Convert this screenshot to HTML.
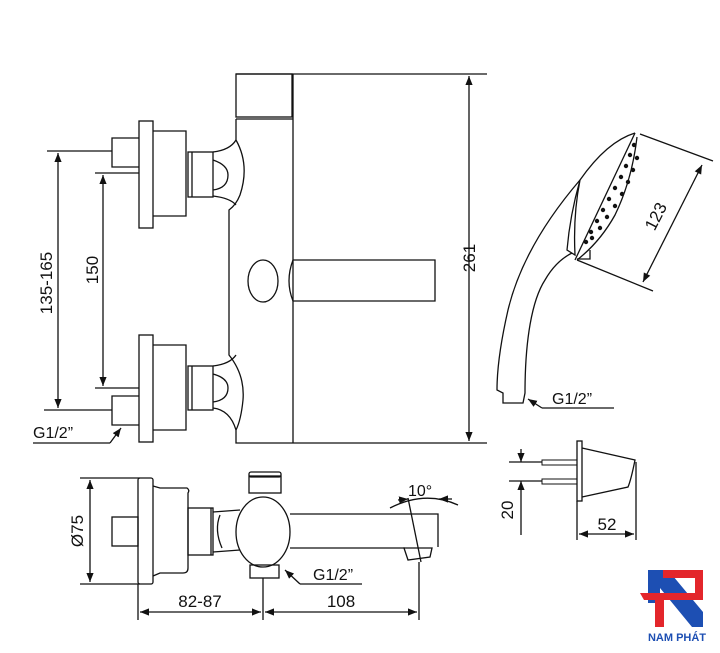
<!DOCTYPE html>
<html><head><meta charset="utf-8"><style>
html,body{margin:0;padding:0;background:#fff;width:720px;height:653px;overflow:hidden}
svg text{font-family:"Liberation Sans",sans-serif;fill:#111}
</style></head><body>
<svg width="720" height="653" viewBox="0 0 720 653" xmlns="http://www.w3.org/2000/svg">
<defs>
<marker id="a" viewBox="0 0 10 10" refX="10" refY="5" markerWidth="9" markerHeight="9" orient="auto-start-reverse" markerUnits="userSpaceOnUse"><path d="M0,1 L10,5 L0,9 Z" fill="#111"/></marker>
</defs>
<g fill="none" stroke="#111" stroke-width="1.3">
<line x1="236" y1="74" x2="487" y2="74"/>
<rect x="236" y="74" width="56" height="43"/>
<line x1="293" y1="74" x2="293" y2="443"/>
<line x1="236" y1="119" x2="293" y2="119"/>
<path d="M236,119 L236,140 Q250,165 240,195 Q236,205 229,210 L229,355 Q245,375 243,400 Q241,420 236,430 L236,443 L487,443"/>
<path d="M213,152 Q230,150 236,140 M213,196 Q230,198 236,205 M213,160 Q228,165 228,175 Q228,188 213,190"/>
<path d="M213,366 Q230,364 236,355 M213,408 Q230,410 236,430 M213,374 Q228,378 228,388 Q228,400 213,402"/>
<ellipse cx="263" cy="281" rx="15" ry="21"/>
<path d="M293,260 L435,260 L435,301 L293,301 Q285,281 293,260"/>
<line x1="469" y1="76" x2="469" y2="441" marker-start="url(#a)" marker-end="url(#a)"/>
<rect x="139" y="121" width="14" height="107"/>
<path d="M153,131 L186,131 L186,216 L153,216"/>
<rect x="188" y="152" width="25" height="45"/>
<line x1="192" y1="152" x2="192" y2="197"/>
<path d="M139,138 L112,138 L112,167 L139,167"/>
<rect x="139" y="335" width="14" height="107"/>
<path d="M153,345 L186,345 L186,430 L153,430"/>
<rect x="188" y="366" width="25" height="44"/>
<line x1="192" y1="366" x2="192" y2="410"/>
<path d="M139,396 L112,396 L112,425 L139,425"/>
<line x1="47" y1="151" x2="112" y2="151"/>
<line x1="44" y1="410" x2="112" y2="410"/>
<line x1="58" y1="153" x2="58" y2="408" marker-start="url(#a)" marker-end="url(#a)"/>
<line x1="95" y1="173" x2="139" y2="173"/>
<line x1="95" y1="388" x2="139" y2="388"/>
<line x1="103" y1="175" x2="103" y2="386" marker-start="url(#a)" marker-end="url(#a)"/>
<polyline points="33,443 110,443"/>
<line x1="110" y1="443" x2="121" y2="428" marker-end="url(#a)"/>
<line x1="80" y1="478" x2="140" y2="478"/>
<line x1="80" y1="584" x2="140" y2="584"/>
<line x1="90" y1="480" x2="90" y2="582" marker-start="url(#a)" marker-end="url(#a)"/>
<rect x="138" y="478" width="15" height="106" rx="2"/>
<path d="M153,486 L160,488 L187,488 Q190,490 188,493 L188,568 Q188,573 183,573 L160,573 L153,576"/>
<rect x="112" y="517" width="26" height="29"/>
<rect x="188" y="508" width="25" height="47"/>
<line x1="211" y1="508" x2="211" y2="555"/>
<path d="M213,512 L240,510 M213,552 L240,550 M220,515 Q214,530 222,548"/>
<ellipse cx="263" cy="532" rx="27" ry="35"/>
<rect x="249" y="476" width="32" height="17"/>
<rect x="249" y="472" width="32" height="5" rx="2"/>
<rect x="250" y="565" width="29" height="13"/>
<path d="M290,514 L438,514 L438,547 M290,548 L405,548"/>
<path d="M404,548 L408,560 L430,557 L432,548 Z"/>
<line x1="408" y1="498" x2="421" y2="562"/>
<path d="M390,508 Q425,490 458,505"/>
<line x1="398" y1="500" x2="408" y2="499" marker-end="url(#a)"/>
<line x1="452" y1="499" x2="439" y2="499" marker-end="url(#a)"/>
<line x1="138" y1="584" x2="138" y2="620"/>
<line x1="263" y1="578" x2="263" y2="620"/>
<line x1="419" y1="562" x2="419" y2="620"/>
<line x1="140" y1="612" x2="261" y2="612" marker-start="url(#a)" marker-end="url(#a)"/>
<line x1="265" y1="612" x2="417" y2="612" marker-start="url(#a)" marker-end="url(#a)"/>
<polyline points="362,584 300,584"/>
<line x1="300" y1="584" x2="285" y2="570" marker-end="url(#a)"/>
<!-- hand shower -->
<path d="M635,133 C612,140 594,160 580,180 C550,215 520,260 508,310 C500,345 497,370 497,390 L503,393 L503,403 L523,403 L525,393 C525,340 532,300 545,280 C553,266 562,258 572,253"/>
<path d="M580,180 Q570,215 567,250 L575,255 Q573,215 580,180"/>
<path d="M635,133 L575,260"/>
<path d="M637,137 Q632,180 615,215 Q600,242 577,260"/>
<path d="M577,259 L590,259 L590,250"/>
<line x1="640" y1="134" x2="713" y2="161"/>
<line x1="577" y1="260" x2="653" y2="291"/>
<line x1="702" y1="165" x2="643" y2="282" marker-start="url(#a)" marker-end="url(#a)"/>
<polyline points="614,408 542,408"/>
<line x1="542" y1="408" x2="528" y2="399" marker-end="url(#a)"/>
<rect x="577" y="441" width="5" height="60"/>
<path d="M582,448 L635,460 Q631,480 628,487 L582,497"/>
<path d="M542,460 L577,460 L577,465 L542,465 Z M542,479 L577,479 L577,484 L542,484 Z" stroke-width="1"/>
<line x1="509" y1="462" x2="542" y2="462"/>
<line x1="509" y1="481" x2="542" y2="481"/>
<line x1="521" y1="449" x2="521" y2="462" marker-end="url(#a)"/>
<line x1="521" y1="535" x2="521" y2="481" marker-end="url(#a)"/>
<line x1="636" y1="462" x2="636" y2="540"/>
<line x1="577" y1="501" x2="577" y2="540"/>
<line x1="579" y1="534" x2="634" y2="534" marker-start="url(#a)" marker-end="url(#a)"/>
</g>
<g fill="#111">
<circle cx="634" cy="145" r="2.2"/><circle cx="630" cy="155" r="2.2"/><circle cx="626" cy="166" r="2.2"/><circle cx="621" cy="177" r="2.2"/><circle cx="615" cy="188" r="2.2"/><circle cx="609" cy="199" r="2.2"/><circle cx="603" cy="210" r="2.2"/><circle cx="597" cy="221" r="2.2"/><circle cx="591" cy="232" r="2.2"/><circle cx="586" cy="242" r="2.2"/>
<circle cx="637" cy="158" r="2.2"/><circle cx="633" cy="170" r="2.2"/><circle cx="628" cy="182" r="2.2"/><circle cx="622" cy="194" r="2.2"/><circle cx="615" cy="206" r="2.2"/><circle cx="607" cy="217" r="2.2"/><circle cx="600" cy="228" r="2.2"/><circle cx="592" cy="238" r="2.2"/>
</g>
<text x="0" y="0" font-size="17" transform="translate(475,258) rotate(-90)" text-anchor="middle">261</text>
<text x="0" y="0" font-size="17" transform="translate(52,283) rotate(-90)" text-anchor="middle">135-165</text>
<text x="0" y="0" font-size="17" transform="translate(98,270) rotate(-90)" text-anchor="middle">150</text>
<text x="33" y="438" font-size="16">G1/2”</text>
<text x="0" y="0" font-size="17" transform="translate(83,531) rotate(-90)" text-anchor="middle">Ø75</text>
<text x="200" y="607" font-size="17" text-anchor="middle">82-87</text>
<text x="341" y="607" font-size="17" text-anchor="middle">108</text>
<text x="313" y="580" font-size="16">G1/2”</text>
<text x="408" y="496" font-size="16">10°</text>
<text x="0" y="0" font-size="17" transform="translate(661,219) rotate(-63)" text-anchor="middle">123</text>
<text x="552" y="404" font-size="16">G1/2”</text>
<text x="0" y="0" font-size="17" transform="translate(513,510) rotate(-90)" text-anchor="middle">20</text>
<text x="607" y="530" font-size="17" text-anchor="middle">52</text>
<g>
<polygon points="648,570 668,570 703,612 703,627 692,627 660,588 660,603 648,603" fill="#1d4fb3"/>
<rect x="663" y="570" width="40" height="8" fill="#e3262b"/>
<rect x="695" y="570" width="8" height="29" fill="#e3262b"/>
<polygon points="640,593 703,593 703,600 644,600" fill="#e3262b"/>
<rect x="655" y="593" width="9" height="34" fill="#e3262b"/>
<text x="677" y="641" font-size="11" font-weight="bold" text-anchor="middle" style="fill:#1d4fb3">NAM PHÁT</text>
</g>
</svg>
</body></html>
